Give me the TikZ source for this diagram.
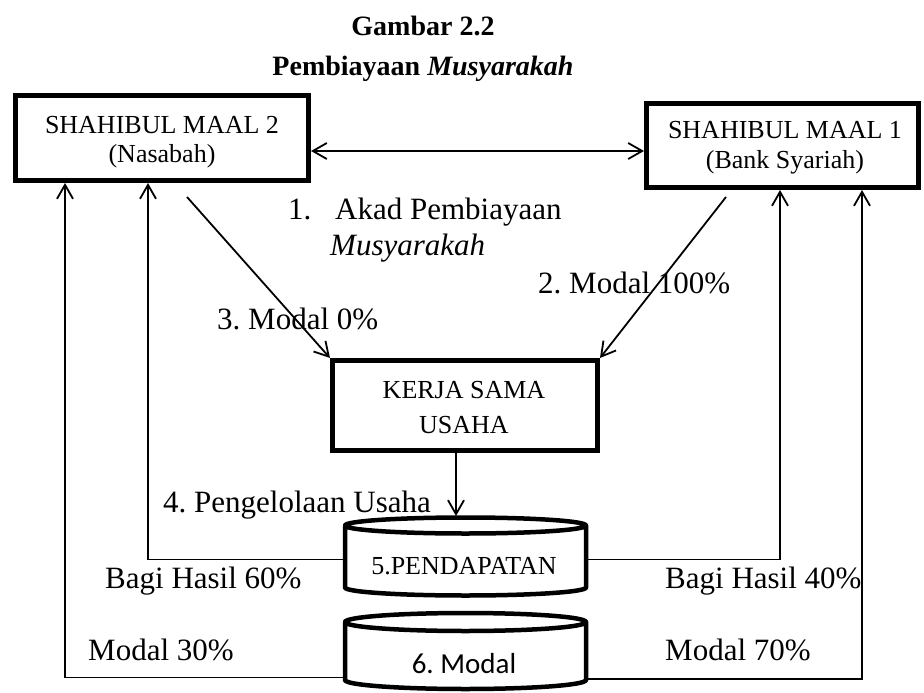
\documentclass[tikz,border=0pt]{standalone}
\usepackage{fontspec}
\setmainfont{Liberation Serif}
\newfontfamily\carlito{Carlito}
\usetikzlibrary{arrows.meta,calc}
\frenchspacing

\begin{document}
\begin{tikzpicture}[x=1pt,y=-1pt,
  >={Straight Barb[length=14pt,width=16pt]},
  every node/.style={inner sep=0pt},
  titletxt/.style={font=\bfseries\fontsize{28}{34}\selectfont, anchor=base},
  smalltxt/.style={font=\fontsize{26}{30}\selectfont, anchor=base},
  bigtxt/.style={font=\fontsize{31}{36}\selectfont, anchor=base west},
  boxed/.style={draw, line width=5pt},
  conn/.style={line width=1.8pt},
  drumline/.style={line width=4.5pt, line join=round},
  drumbody/.style={outer sep=0pt}]

\useasboundingbox (0,0) rectangle (924,693);
\fill[white] (0,0) rectangle (924,693);

% heading
\node[titletxt] (t1) at (423,36) {Gambar 2.2};
\node[titletxt] (t2) at (423,75) {Pembiayaan \textit{Musyarakah}};

% the two partners
\node[boxed, minimum width=293pt, minimum height=85pt] (L) at (162,138) {};
\node[smalltxt] (L1) at (162,133) {SHAHIBUL MAAL 2};
\node[smalltxt] (L2) at (162,162) {(Nasabah)};

\node[boxed, minimum width=272pt, minimum height=84pt] (R) at (782.5,145.5) {};
\node[smalltxt] (R1) at (785,139) {SHAHIBUL MAAL 1};
\node[smalltxt] (R2) at (785,168) {(Bank Syariah)};

% joint venture
\node[boxed, minimum width=265pt, minimum height=90pt] (K) at (465,405.5) {};
\node[smalltxt] (K1) at (464,398) {KERJA SAMA};
\node[smalltxt] (K2) at (464,433) {USAHA};

% revenue and capital drums
\node[drumbody, minimum width=241pt, minimum height=62pt] (P) at (465.5,556.5) {};
\draw[drumline] (P.north west) -- (P.south west)
  arc[start angle=180, end angle=360, x radius=120.5pt, y radius=8pt]
  -- (P.north east)
  arc[start angle=0, end angle=360, x radius=120.5pt, y radius=8pt];
\node[smalltxt] (Ptxt) at (464,574) {5.PENDAPATAN};

\node[drumbody, minimum width=241pt, minimum height=58pt] (M) at (465.5,651) {};
\draw[drumline] (M.north west) -- (M.south west)
  arc[start angle=180, end angle=360, x radius=120.5pt, y radius=9pt]
  -- (M.north east)
  arc[start angle=0, end angle=360, x radius=120.5pt, y radius=9pt];
\node[anchor=base, font=\carlito\fontsize{29}{34}\selectfont] (Mtxt) at (464,673) {6. Modal};

% helper points
\coordinate (h) at (0,151);
\coordinate (s3) at (187,197);
\coordinate (s2) at (726,197);
\coordinate (a4) at (456,516);
\coordinate (x65) at (65,0);
\coordinate (x148) at (148,0);
\coordinate (x780) at (780,0);
\coordinate (x862) at (862,0);
\coordinate (Pl) at ([yshift=-3pt]P.west);
\coordinate (Pr) at ([yshift=-3pt]P.east);
\coordinate (Ml) at ([yshift=-26.5pt]M.west);
\coordinate (Mr) at ([yshift=-28pt]M.east);

% connectors
\draw[conn,<->] (L.east |- h) -- (R.west |- h);
\draw[conn,->] (s3) -- (K.north west);
\draw[conn,->] (s2) -- (K.north east);
\draw[conn,->] (K.south -| a4) -- (a4);
\draw[conn,->] (Pl) -| (L.south -| x148);
\draw[conn,->] (Ml) -| (L.south -| x65);
\draw[conn,->] (Pr) -| (R.south -| x780);
\draw[conn,->] (Mr) -| (R.south -| x862);

% labels
\node[bigtxt] (n1) at (288,219) {1.};
\node[bigtxt] (akad) at (335,219) {Akad Pembiayaan};
\node[bigtxt] (musy) at (330,255) {\textit{Musyarakah}};
\node[bigtxt] (m100) at (538,293) {2. Modal 100\%};
\node[bigtxt] (m0) at (217,329) {3. Modal 0\%};
\node[bigtxt] (kelola) at (163,512) {4. Pengelolaan Usaha};
\node[bigtxt] (bh60) at (105,588) {Bagi Hasil 60\%};
\node[bigtxt] (m30) at (88,660) {Modal 30\%};
\node[bigtxt] (bh40) at (665,588) {Bagi Hasil 40\%};
\node[bigtxt] (m70) at (665,660) {Modal 70\%};
\end{tikzpicture}
\end{document}
